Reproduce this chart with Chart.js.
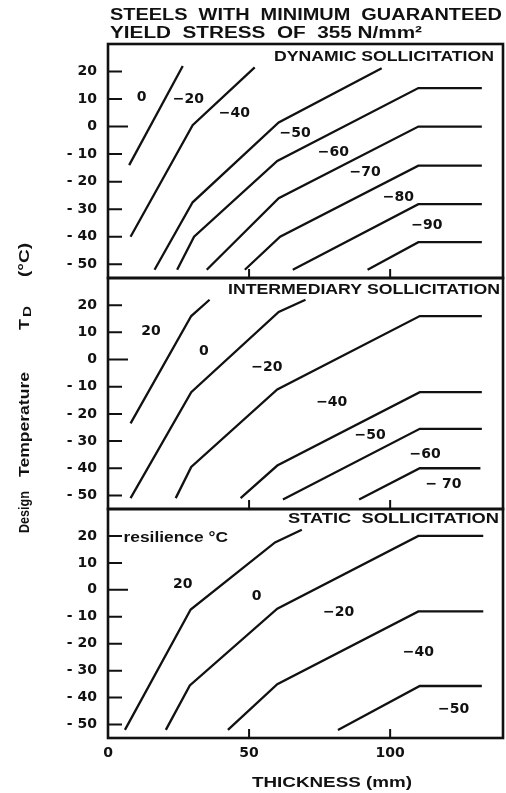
<!DOCTYPE html>
<html>
<head>
<meta charset="utf-8">
<script src="https://cdn.jsdelivr.net/npm/chart.js@4.4.1/dist/chart.umd.min.js"></script>
<style>
  html, body { margin: 0; padding: 0; background: #fff; }
  #wrap { position: relative; width: 506px; height: 793px; }
  #wrap canvas { position: absolute; left: 0; top: 0; }
</style>
</head>
<body>
<div id="wrap">
  <canvas id="dynamic" width="506" height="793"></canvas>
  <canvas id="intermediary" width="506" height="793"></canvas>
  <canvas id="static" width="506" height="793"></canvas>
</div>
<script>
// axes
const thicknessTicks = [0, 50, 100];
const tempTicks = [20, 10, 0, -10, -20, -30, -40, -50];

// dynamic sollicitation, [thickness mm, design temperature °C]
const dyn0   = [[7.5, -14], [26.5, 22]];
const dyn20  = [[8, -40], [30, 0.5], [52, 21.5]];
const dyn40  = [[16.5, -52], [30, -27.5], [60.5, 1.5], [97, 21.2]];
const dyn50  = [[24.5, -52], [30.5, -40], [60, -12.5], [110, 14], [132.5, 14]];
const dyn60  = [[35, -52], [60.5, -26], [110, 0], [132.5, 0]];
const dyn70  = [[48.5, -52], [61, -40], [110, -14.2], [132.5, -14.2]];
const dyn80  = [[65.5, -52], [110, -28.2], [132.5, -28.2]];
const dyn90  = [[92, -52], [110, -42], [132.5, -42]];
const dynLabels = [['0', 11.9, 10.6], ['−20', 28.5, 9.8], ['−40', 44.8, 4.7], ['−50', 66.3, -2.3],
                   ['−60', 79.9, -9.2], ['−70', 91.1, -16.8], ['−80', 102.9, -25.8], ['−90', 113, -35.9]];

// intermediary sollicitation
const int20  = [[8, -23.5], [29.5, 16], [36, 22]];
const int0   = [[8, -51], [29.5, -12], [60.5, 17.5], [70, 22]];
const intM20 = [[24, -51], [29.5, -39.5], [60, -11], [110.5, 16], [132.5, 16]];
const intM40 = [[47, -51], [60, -39], [110.5, -12], [132.5, -12]];
const intM50 = [[62, -51.5], [110.5, -25.5], [132.5, -25.5]];
const intM60 = [[89, -51.5], [110.5, -40], [132, -40]];
const intLabels = [['20', 15.2, 10.4], ['0', 34, 3], ['−20', 56.3, -2.7], ['−40', 79.3, -15.6],
                   ['−50', 92.9, -27.8], ['−60', 112.4, -34.8], ['− 70', 118.9, -45.8]];

// static sollicitation
const sta20  = [[6, -52], [29.3, -7.3], [59.2, 17.6], [68.7, 22.3]];
const sta0   = [[20.5, -52], [29, -35.5], [60, -7], [110, 20], [133, 20]];
const staM20 = [[42.5, -52], [60, -35], [110, -8], [133, -8]];
const staM40 = [[81.5, -52], [110.5, -35.7], [132.5, -35.7]];
const staLabels = [['20', 26.5, 2.1], ['0', 52.7, -2.6], ['−20', 81.7, -8.5],
                   ['−40', 110, -23.2], ['−50', 122.5, -44.5]];

const INK = '#111';
const NUM_FONT = 'bold 14px "DejaVu Sans", sans-serif';
const CAP_FONT = 'bold 15px "Liberation Sans", Arial, sans-serif';

// draw text squeezed/stretched horizontally into [x0, x1]
function fitText(ctx, text, x0, x1, y) {
  const w = ctx.measureText(text).width;
  ctx.save();
  ctx.translate(x0, y);
  ctx.scale((x1 - x0) / w, 1);
  ctx.textAlign = 'left';
  ctx.fillText(text, 0, 0);
  ctx.restore();
}

function decor(cfg) {
  return {
    id: 'decor',
    afterDraw(chart) {
      const { ctx, chartArea: a, scales: { x, y } } = chart;
      ctx.save();
      ctx.strokeStyle = INK;
      ctx.fillStyle = INK;

      // panel frame
      ctx.lineWidth = 2.6;
      ctx.strokeRect(a.left, a.top, a.right - a.left, a.bottom - a.top);

      // tick marks drawn inward
      ctx.lineWidth = 2;
      ctx.beginPath();
      tempTicks.forEach(t => {
        const py = y.getPixelForValue(t);
        ctx.moveTo(a.left, py);
        ctx.lineTo(a.left + (t === 0 ? 20 : 14), py);
      });
      thicknessTicks.slice(1).forEach(v => {
        const px = x.getPixelForValue(v);
        ctx.moveTo(px, a.bottom);
        ctx.lineTo(px, a.bottom - 9);
      });
      ctx.stroke();

      // panel heading
      ctx.font = CAP_FONT;
      ctx.textBaseline = 'middle';
      fitText(ctx, cfg.heading, cfg.headX0, cfg.headX1, cfg.headY);

      // zone labels (resilience temperature)
      ctx.font = NUM_FONT;
      ctx.textAlign = 'center';
      cfg.labels.forEach(([txt, tx, tt]) => {
        ctx.fillText(txt, x.getPixelForValue(tx), y.getPixelForValue(tt));
      });

      if (cfg.extra) cfg.extra(ctx, x, y);
      ctx.restore();
    }
  };
}

function makeChart(id, curves, cfg) {
  return new Chart(document.getElementById(id), {
    type: 'line',
    data: {
      datasets: curves.map(c => ({
        data: c.map(([t, v]) => ({ x: t, y: v })),
        borderColor: INK,
        borderWidth: 2.3,
        pointRadius: 0,
        tension: 0,
        fill: false
      }))
    },
    options: {
      responsive: false,
      animation: false,
      events: [],
      devicePixelRatio: 1,
      layout: { padding: { left: 0, right: 3, top: cfg.top, bottom: cfg.bottom } },
      plugins: { legend: { display: false }, tooltip: { enabled: false } },
      scales: {
        x: {
          type: 'linear',
          min: 0,
          max: 140,
          display: cfg.showX,
          grid: { display: false, drawTicks: false },
          border: { display: false },
          afterBuildTicks: s => { s.ticks = thicknessTicks.map(v => ({ value: v })); },
          afterFit: s => { s.height = cfg.showX ? 55 : 0; },
          ticks: { color: INK, font: { family: '"DejaVu Sans", sans-serif', size: 14, weight: 'bold' }, padding: 7, maxRotation: 0 }
        },
        y: {
          type: 'linear',
          min: -55,
          max: 30,
          grid: { display: false, drawTicks: false },
          border: { display: false },
          afterBuildTicks: s => { s.ticks = tempTicks.map(v => ({ value: v })); },
          afterFit: s => { s.width = 108; },
          ticks: {
            color: INK,
            font: { family: '"DejaVu Sans", sans-serif', size: 14, weight: 'bold' },
            padding: 11,
            callback: v => (v < 0 ? '- ' + (-v) : String(v))
          }
        }
      }
    },
    plugins: [decor(cfg)]
  });
}

makeChart('dynamic', [dyn0, dyn20, dyn40, dyn50, dyn60, dyn70, dyn80, dyn90], {
  top: 44, bottom: 515, showX: false,
  heading: 'DYNAMIC SOLLICITATION', headX0: 274, headX1: 494, headY: 57,
  labels: dynLabels,
  extra(ctx) {
    ctx.font = 'bold 16px "Liberation Sans", Arial, sans-serif';
    ctx.textBaseline = 'middle';
    fitText(ctx, 'STEELS  WITH  MINIMUM  GUARANTEED', 110, 502, 16);
    fitText(ctx, 'YIELD  STRESS  OF  355 N/mm²', 110, 422, 34);
  }
});

makeChart('intermediary', [int20, int0, intM20, intM40, intM50, intM60], {
  top: 278, bottom: 284, showX: false,
  heading: 'INTERMEDIARY SOLLICITATION', headX0: 228, headX1: 500, headY: 290,
  labels: intLabels
});

makeChart('static', [sta20, sta0, staM20, staM40], {
  top: 509, bottom: 0, showX: true,
  heading: 'STATIC  SOLLICITATION', headX0: 288, headX1: 499, headY: 519,
  labels: staLabels,
  extra(ctx, x, y) {
    ctx.textBaseline = 'middle';
    ctx.font = 'bold 14px "Liberation Sans", Arial, sans-serif';
    fitText(ctx, 'resilience °C', x.getPixelForValue(5.5), x.getPixelForValue(42.5), y.getPixelForValue(19));

    ctx.font = 'bold 15px "Liberation Sans", Arial, sans-serif';
    fitText(ctx, 'THICKNESS (mm)', 252, 412, 783);

    // vertical axis title, reading bottom to top
    ctx.save();
    ctx.translate(0, 533);
    ctx.rotate(-Math.PI / 2);
    ctx.textBaseline = 'alphabetic';
    ctx.font = 'bold 14px "Liberation Sans", Arial, sans-serif';
    fitText(ctx, 'Design', 0, 42, 28.5);
    fitText(ctx, 'Temperature', 56, 161, 28.5);
    fitText(ctx, 'T', 203, 214, 28.5);
    fitText(ctx, '(°C)', 256, 290, 28.5);
    ctx.font = 'bold 11px "Liberation Sans", Arial, sans-serif';
    fitText(ctx, 'D', 216, 227, 31);
    ctx.restore();
  }
});
</script>
</body>
</html>
